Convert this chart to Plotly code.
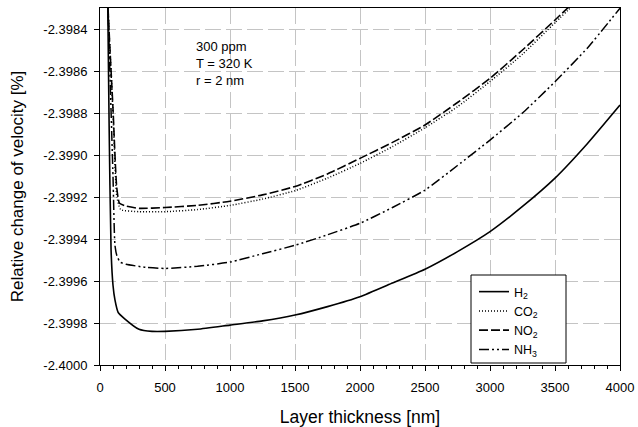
import plotly.graph_objects as go

# ---- data ----
h2_x = [50, 60, 70, 85, 100, 115, 140, 190, 300, 400, 500, 750, 1000, 1250, 1500, 1750, 2000,
        2250, 2500, 2750, 3000, 3250, 3500, 3750, 4000]
h2_y = [-2.3978, -2.3983, -2.39885, -2.39945, -2.39962, -2.39969, -2.39975, -2.39978, -2.39983,
        -2.39984, -2.39984, -2.39983, -2.39981, -2.39979, -2.399762, -2.399722, -2.399675,
        -2.39961, -2.399544, -2.39946, -2.399365, -2.399245, -2.39911, -2.398945, -2.398762]

co2_x = [50, 62, 100, 130, 160, 300, 500, 750, 1000, 1250, 1500, 1750, 2000, 2250, 2500,
         2750, 3000, 3250, 3500, 3750]
co2_y = [-2.3979, -2.3983, -2.3988, -2.3992, -2.39926, -2.39927, -2.39927, -2.39926, -2.39924,
         -2.39921, -2.39917, -2.39911, -2.39904, -2.39896, -2.39887, -2.39877, -2.39865,
         -2.39852, -2.39837, -2.39822]

no2_x = [50, 62, 100, 128, 150, 200, 300, 500, 750, 1000, 1250, 1500, 1750, 2000, 2250, 2500,
         2750, 3000, 3250, 3500, 3750]
no2_y = [-2.3979, -2.3983, -2.39878, -2.39915, -2.39923, -2.399243, -2.399254, -2.39925,
         -2.39924, -2.39922, -2.39919, -2.39915, -2.39909, -2.399016, -2.39894, -2.398857,
         -2.39875, -2.398635, -2.3985, -2.398357, -2.39821]

nh3_x = [50, 62, 100, 115, 130, 155, 200, 350, 500, 750, 1000, 1250, 1500, 1750, 2000, 2250,
         2500, 2750, 3000, 3250, 3500, 3750, 4000]
nh3_y = [-2.3979, -2.3983, -2.3991, -2.39943, -2.39948, -2.39951, -2.39952, -2.399535,
         -2.39954, -2.39953, -2.39951, -2.39947, -2.39943, -2.39938, -2.399325, -2.39925,
         -2.399167, -2.39905, -2.398929, -2.3988, -2.398651, -2.39849, -2.398301]

series_names = ["H<sub>2</sub>", "CO<sub>2</sub>", "NO<sub>2</sub>", "NH<sub>3</sub>"]

y_tickvals = [-2.4000, -2.3998, -2.3996, -2.3994, -2.3992, -2.3990, -2.3988, -2.3986, -2.3984]
y_ticktext = ["-2.4000", "-2.3998", "-2.3996", "-2.3994", "-2.3992", "-2.3990", "-2.3988",
              "-2.3986", "-2.3984"]
x_tickvals = [0, 500, 1000, 1500, 2000, 2500, 3000, 3500, 4000]

note_text = "300 ppm<br>T = 320 K<br>r = 2 nm"

# ---- figure ----
fig = go.Figure()
styles = [
    dict(color="black", width=1.6, dash="solid", shape="spline", smoothing=0.5),
    dict(color="black", width=1.5, dash="1px,2px", shape="spline", smoothing=0.5),
    dict(color="black", width=1.6, dash="9px,3px", shape="spline", smoothing=0.5),
    dict(color="black", width=1.5, dash="10px,3px,2px,3px,2px,3px", shape="spline", smoothing=0.5),
]
for xs, ys, name, st in zip([h2_x, co2_x, no2_x, nh3_x], [h2_y, co2_y, no2_y, nh3_y],
                            series_names, styles):
    fig.add_trace(go.Scatter(x=xs, y=ys, mode="lines", name=name, line=st))

font_family = "Liberation Sans, Arial, sans-serif"
L, R, T, B = 100, 18, 8, 62
W, H = 638, 427
pw, ph = W - L - R, H - T - B

def px_x(p):
    return (p - L) / pw

def px_y(p):
    return (H - B - p) / ph

fig.update_layout(
    width=W, height=H,
    margin=dict(l=L, r=R, t=T, b=B, autoexpand=False),
    paper_bgcolor="white", plot_bgcolor="white",
    font=dict(family=font_family, size=13, color="black"),
    showlegend=True,
    legend=dict(x=px_x(474), y=px_y(277), xanchor="left", yanchor="top",
                borderwidth=0, bgcolor="rgba(0,0,0,0)",
                font=dict(size=12.5), tracegroupgap=0),
    annotations=[dict(x=px_x(194), y=px_y(37), xref="paper", yref="paper",
                      text=note_text, showarrow=False, align="left",
                      xanchor="left", yanchor="top", font=dict(size=13))],
    shapes=[dict(type="rect", xref="paper", yref="paper",
                 x0=px_x(471), x1=px_x(566), y0=px_y(363), y1=px_y(275),
                 line=dict(color="black", width=1), fillcolor="white", layer="above")],
)

fig.update_xaxes(
    range=[0, 4000], tickvals=x_tickvals, ticks="outside", ticklen=5, tickcolor="black",
    ticklabelstandoff=5, automargin=False,
    showline=True, linecolor="black", linewidth=1, mirror=True,
    showgrid=True, gridcolor="#c4c4c4", griddash="16px,5px", gridwidth=1, zeroline=False,
    minor=dict(dtick=100, ticks="outside", ticklen=3, tickcolor="black", showgrid=False),
    title=dict(text="Layer thickness [nm]", font=dict(size=17.5), standoff=17),
    tickfont=dict(size=13),
)
fig.update_yaxes(
    range=[-2.4000, -2.3983], tickvals=y_tickvals, ticktext=y_ticktext,
    ticks="outside", ticklen=5, tickcolor="black", ticklabelstandoff=4, automargin=False,
    showline=True, linecolor="black", linewidth=1, mirror=True,
    showgrid=True, gridcolor="#c4c4c4", griddash="16px,5px", gridwidth=1, zeroline=False,
    title=dict(text="Relative change of velocity [%]", font=dict(size=17), standoff=15),
    tickfont=dict(size=13),
)

fig.write_html("out.html")
